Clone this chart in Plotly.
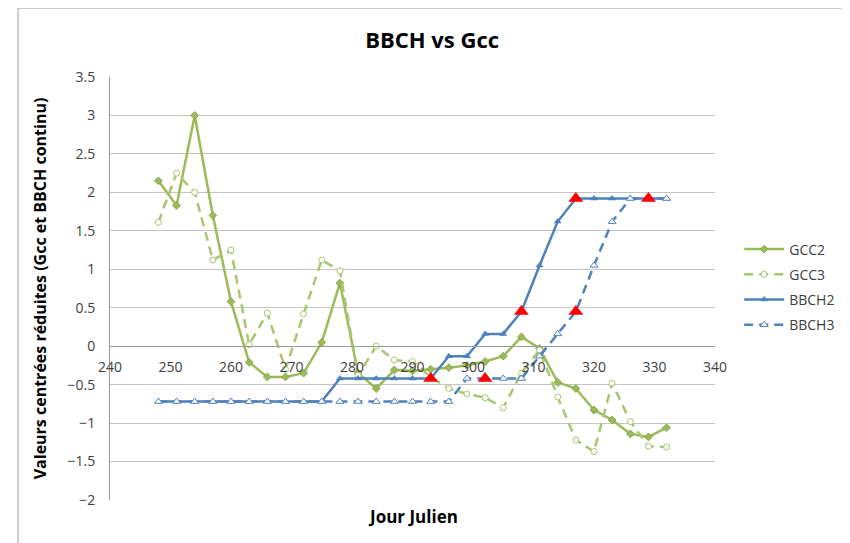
import plotly.graph_objects as go

days = [248, 251, 254, 257, 260, 263, 266, 269, 272, 275, 278, 281, 284, 287, 290,
        293, 296, 299, 302, 305, 308, 311, 314, 317, 320, 323, 326, 329, 332]

gcc2 = [2.15, 1.83, 3.0, 1.7, 0.58, -0.21, -0.40, -0.40, -0.35, 0.05, 0.82, -0.35, -0.55, -0.31, -0.32,
        -0.30, -0.28, -0.25, -0.20, -0.13, 0.12, -0.03, -0.47, -0.55, -0.83, -0.96, -1.14, -1.18, -1.06]

gcc3 = [1.61, 2.25, 2.0, 1.12, 1.25, 0.02, 0.43, -0.30, 0.42, 1.12, 0.98, -0.38, 0.0, -0.18, -0.20,
        -0.40, -0.55, -0.62, -0.67, -0.80, -0.35, -0.05, -0.66, -1.22, -1.37, -0.48, -0.98, -1.30, -1.31]

bbch2 = [-0.72, -0.72, -0.72, -0.72, -0.72, -0.72, -0.72, -0.72, -0.72, -0.72, -0.42, -0.42, -0.42, -0.42, -0.42,
         -0.42, -0.13, -0.13, 0.16, 0.16, 0.45, 1.05, 1.62, 1.92, 1.92, 1.92, 1.92, 1.92, 1.92]

bbch3 = [-0.72, -0.72, -0.72, -0.72, -0.72, -0.72, -0.72, -0.72, -0.72, -0.72, -0.72, -0.72, -0.72, -0.72, -0.72,
         -0.72, -0.72, -0.42, -0.42, -0.42, -0.42, -0.13, 0.16, 0.45, 1.05, 1.62, 1.92, 1.92, 1.92]

stage_days = [293, 302, 308, 317, 317, 329]
stage_vals = [-0.42, -0.42, 0.45, 0.45, 1.92, 1.92]

GREEN = "#9bbb59"
GREEN_L = "#a9c66f"
BLUE = "#4f81bd"
FONT = "Open Sans, Lato, sans-serif"

fig = go.Figure()
fig.add_trace(go.Scatter(x=days, y=gcc2, name="GCC2", mode="lines+markers", legendgroup="a",
                         line=dict(color=GREEN, width=2.5),
                         marker=dict(symbol="diamond", size=6, color=GREEN,
                                     line=dict(color="#8aa84c", width=1))))
fig.add_trace(go.Scatter(x=days, y=gcc3, name="GCC3", mode="lines+markers", legendgroup="b",
                         line=dict(color=GREEN_L, width=2.5, dash="9px,6px"),
                         marker=dict(symbol="circle", size=6, color="white",
                                     line=dict(color=GREEN_L, width=1))))
fig.add_trace(go.Scatter(x=days, y=bbch2, name="BBCH2", mode="lines+markers", legendgroup="c",
                         line=dict(color=BLUE, width=2.5),
                         marker=dict(symbol="triangle-up", size=7, color=BLUE)))
fig.add_trace(go.Scatter(x=days, y=bbch3, name="BBCH3", mode="lines+markers", legendgroup="d",
                         line=dict(color=BLUE, width=2.5, dash="9px,6px"),
                         marker=dict(symbol="triangle-up", size=7, color="white",
                                     line=dict(color=BLUE, width=1))))
fig.add_trace(go.Scatter(x=stage_days, y=stage_vals, mode="markers", showlegend=False,
                         marker=dict(symbol="triangle-up", size=13, color="#ff0000")))

fig.update_layout(
    width=850, height=543,
    margin=dict(l=102, r=143, t=69, b=51),
    paper_bgcolor="white", plot_bgcolor="white",
    font=dict(family=FONT, size=14, color="#404040"),
    title=dict(text="<b>BBCH vs Gcc</b>", x=0.499, xref="container", xanchor="center",
               y=0.941, yref="container", yanchor="middle",
               font=dict(family=FONT, size=22, color="#000000")),
    xaxis=dict(range=[240, 340], dtick=10, tick0=240, anchor="free", position=2 / 5.5,
               showgrid=False, zeroline=False, showline=True, linecolor="#9a9a9a", linewidth=1,
               ticks="outside", ticklen=8, tickcolor="rgba(0,0,0,0)",
               tickfont=dict(family=FONT, size=14, color="#404040")),
    yaxis=dict(range=[-2, 3.5], dtick=0.5, tick0=-2, showgrid=True, gridcolor="#c4c4c4", gridwidth=1,
               zeroline=False, showline=True, linecolor="#9a9a9a", linewidth=1,
               ticks="outside", ticklen=11, tickcolor="rgba(0,0,0,0)",
               tickfont=dict(family=FONT, size=14, color="#404040"),
               title=dict(text="<b>Valeurs centrées réduites (Gcc et BBCH continu)</b>",
                          font=dict(family=FONT, size=16, color="#000000"), standoff=16)),
    legend=dict(x=1.04, y=0.63, xanchor="left", yanchor="top", tracegroupgap=4,
                font=dict(family=FONT, size=14, color="#404040"), itemwidth=40,
                bgcolor="rgba(0,0,0,0)"),
    annotations=[dict(text="<b>Jour Julien</b>", xref="paper", yref="paper", x=0.5, y=-0.04,
                      xanchor="center", yanchor="middle", showarrow=False,
                      font=dict(family=FONT, size=17, color="#000000"))],
    shapes=[dict(type="rect", xref="paper", yref="paper", x0=-0.152, x1=1.2215, y0=-0.2, y1=1.163,
                 line=dict(color="#a0a0a0", width=1), layer="below")],
)

fig.write_html("out.html")
